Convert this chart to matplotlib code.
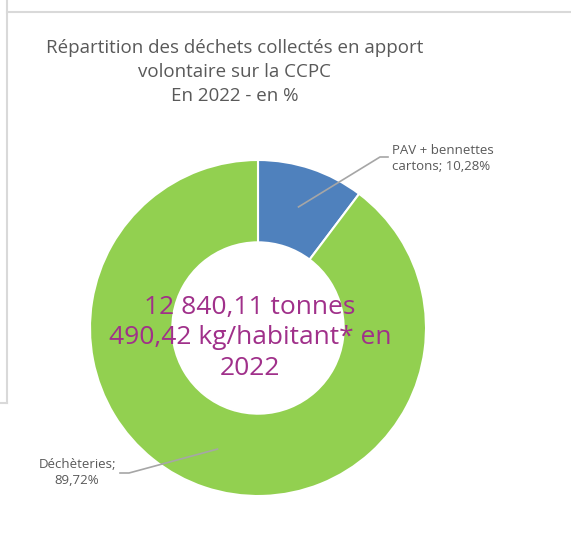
import matplotlib.pyplot as plt
from matplotlib.lines import Line2D
import numpy as np

labels = ["PAV + bennettes\ncartons", "Déchèteries"]
values = [10.28, 89.72]
colors = ["#4F81BD", "#92D050"]
center_lines = ["12 840,11 tonnes", "490,42 kg/habitant* en", "2022"]
title = "Répartition des déchets collectés en apport\nvolontaire sur la CCPC\nEn 2022 - en %"

W, H = 571, 536
fig = plt.figure(figsize=(W / 100, H / 100), dpi=100)

# frame lines of the original worksheet
grey = "#d9d9d9"
fig.add_artist(Line2D([7 / W, 7 / W], [1, 1 - 403 / H], color=grey, lw=1.5))
fig.add_artist(Line2D([7 / W, 570 / W], [1 - 12 / H, 1 - 12 / H], color=grey, lw=1.5))
fig.add_artist(Line2D([0, 7 / W], [1 - 403 / H, 1 - 403 / H], color=grey, lw=1.5))

cx, cy, r = 258, 328, 168
ax = fig.add_axes([(cx - r) / W, (H - cy - r) / H, 2 * r / W, 2 * r / H])
wedges, _ = ax.pie(values, colors=colors, startangle=90, counterclock=False,
                   wedgeprops=dict(width=0.49, edgecolor="white", linewidth=1.5))
ax.set_xlim(-1, 1)
ax.set_ylim(-1, 1)
ax.set_aspect("equal")
ax.axis("off")

fig.text(235 / W, 1 - 72 / H, title, ha="center", va="center", fontsize=13.5,
         color="#595959", family="Open Sans", linespacing=1.45)

# data labels with leader lines
lab_txt = [f"{l}; {v:.2f}%".replace(".", ",") for l, v in zip(labels, values)]
lab_txt[1] = lab_txt[1].replace("; ", ";\n")
text_pos = [((392 - cx) / r, (cy - 158) / r), ((77 - cx) / r, (cy - 473) / r)]
elbow = [((380 - cx) / r, (cy - 157) / r), ((129 - cx) / r, (cy - 473) / r)]
end = [((388 - cx) / r, (cy - 157) / r), ((120 - cx) / r, (cy - 473) / r)]
aligns = ["left", "center"]
for w, t, tp, el, en, ha in zip(wedges, lab_txt, text_pos, elbow, end, aligns):
    ang = np.deg2rad((w.theta1 + w.theta2) / 2)
    sx, sy = 0.76 * np.cos(ang), 0.76 * np.sin(ang)
    ax.plot([sx, el[0], en[0]], [sy, el[1], en[1]], color="#a6a6a6", lw=1.2,
            clip_on=False)
    ax.text(tp[0], tp[1], t, ha=ha, va="center", fontsize=9.5, color="#595959",
            family="Open Sans", linespacing=1.3, clip_on=False)

ax.text(-8 / r, -10 / r, "\n".join(center_lines), ha="center", va="center",
        fontsize=19, color="#A0308A", family="Open Sans", weight="medium",
        linespacing=1.28)

fig.savefig("out.png", dpi=100)
